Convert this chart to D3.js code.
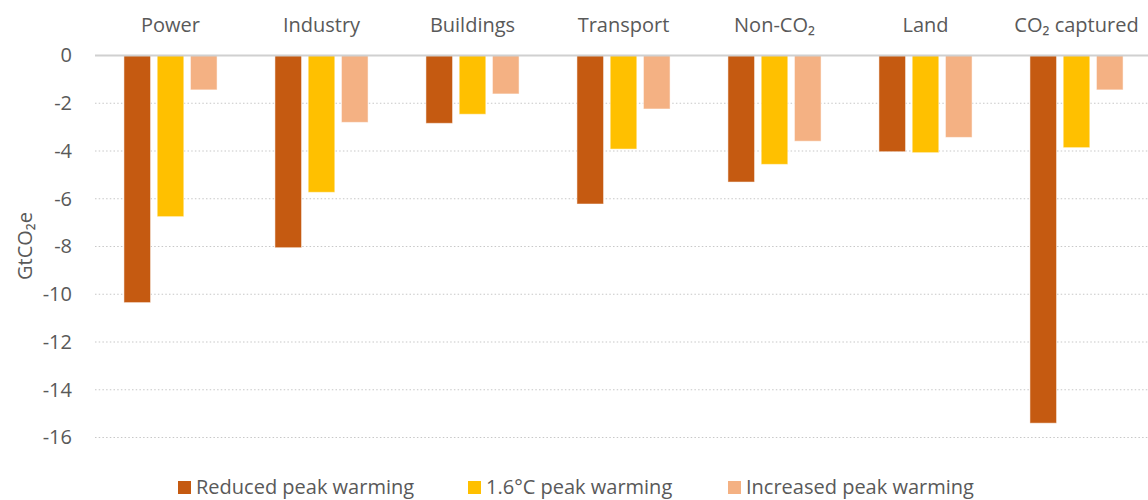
<!DOCTYPE html>
<html>
<head>
<meta charset="utf-8">
<script src="https://cdn.jsdelivr.net/npm/d3@7"></script>
<style>
  body { margin: 0; background: #fff; }
  svg { display: block; font-family: "Open Sans", sans-serif; }
</style>
</head>
<body>
<svg id="chart" width="1148" height="500"></svg>
<script>
const categories = ["Power", "Industry", "Buildings", "Transport", "Non-CO₂", "Land", "CO₂ captured"];
const seriesNames = ["Reduced peak warming", "1.6°C peak warming", "Increased peak warming"];
const reduced = [-10.35, -8.05, -2.84, -6.22, -5.3, -4.03, -15.4];
const midPeak = [-6.75, -5.73, -2.46, -3.92, -4.56, -4.07, -3.86];
const increased = [-1.44, -2.8, -1.61, -2.24, -3.59, -3.43, -1.44];
const yTicks = [0, -2, -4, -6, -8, -10, -12, -14, -16];
const colors = ["#C55A11", "#FFC000", "#F4B183"];

const seriesValues = [reduced, midPeak, increased];
const data = categories.map((c, i) => ({
  cat: c,
  vals: seriesValues.map((s, j) => ({ key: seriesNames[j], value: s[i] }))
}));

const svg = d3.select("#chart");
const margin = { left: 95, right: -4, top: 55.5, bottom: 62.5 };
const width = 1148 - margin.left - margin.right;
const height = 500 - margin.top - margin.bottom;

const g = svg.append("g").attr("transform", `translate(${margin.left},${margin.top})`);

const x0 = d3.scaleBand().domain(categories).range([0, width]).padding(0);
const x1 = d3.scaleBand().domain(seriesNames).range([0, x0.bandwidth()])
  .paddingInner(0.2).paddingOuter(0.87);
const y = d3.scaleLinear().domain([0, -16]).range([0, height]);

// gridlines
g.append("g")
  .selectAll("line")
  .data(yTicks.filter(d => d !== 0))
  .join("line")
  .attr("x1", 0).attr("x2", width)
  .attr("y1", d => y(d)).attr("y2", d => y(d))
  .attr("stroke", "#c8c8c8")
  .attr("stroke-width", 1.2)
  .attr("stroke-dasharray", "1.5,2.2");

// y axis labels
const yAxis = g.append("g").call(d3.axisLeft(y).tickValues(yTicks).tickSize(0).tickPadding(23).tickFormat(d => d === 0 ? "0" : "-" + Math.abs(d)));
yAxis.select(".domain").remove();
yAxis.selectAll("text").attr("font-size", 20).attr("fill", "#595959").attr("font-family", "Open Sans");

// bars
const groups = g.append("g").selectAll("g")
  .data(data)
  .join("g")
  .attr("transform", d => `translate(${x0(d.cat)},0)`);

groups.selectAll("rect")
  .data(d => d.vals)
  .join("rect")
  .attr("x", d => x1(d.key))
  .attr("width", x1.bandwidth())
  .attr("y", d => y(Math.max(0, d.value)))
  .attr("height", d => Math.abs(y(d.value) - y(0)))
  .attr("fill", (d, i) => colors[i])
  .attr("stroke", "#fff")
  .attr("stroke-opacity", 0.5)
  .attr("stroke-width", 1);

// zero line
g.append("line")
  .attr("x1", 0).attr("x2", width)
  .attr("y1", y(0)).attr("y2", y(0))
  .attr("stroke", "#d0d0d0")
  .attr("stroke-width", 2);

// category labels on top
g.append("g").selectAll("text")
  .data(categories)
  .join("text")
  .attr("x", d => x0(d) + x0.bandwidth() / 2)
  .attr("y", -24)
  .attr("text-anchor", "middle")
  .attr("font-size", 20)
  .attr("fill", "#595959")
  .text(d => d);

// y axis title
svg.append("text")
  .attr("transform", "translate(32,246) rotate(-90)")
  .attr("text-anchor", "middle")
  .attr("font-size", 20)
  .attr("fill", "#595959")
  .text("GtCO₂e");

// legend
const legendX = [178, 468, 728];
const legend = svg.append("g").selectAll("g")
  .data(seriesNames)
  .join("g")
  .attr("transform", (d, i) => `translate(${legendX[i]},481)`);
legend.append("rect")
  .attr("width", 13).attr("height", 13)
  .attr("fill", (d, i) => colors[i]);
legend.append("text")
  .attr("x", 18).attr("y", 13)
  .attr("font-size", 20)
  .attr("fill", "#595959")
  .text(d => d);
</script>
</body>
</html>
